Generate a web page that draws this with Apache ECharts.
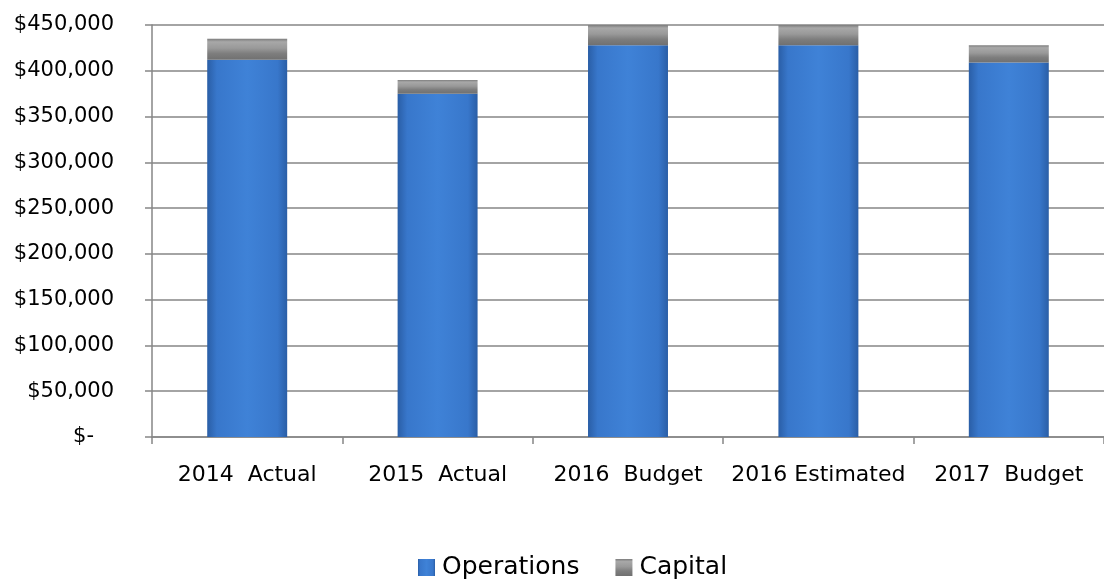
<!DOCTYPE html>
<html>
<head>
<meta charset="utf-8">
<script src="https://cdn.jsdelivr.net/npm/echarts@6/dist/echarts.min.js"></script>
<style>html,body{margin:0;padding:0;background:#fff}#c{width:1104px;height:580px}</style>
</head>
<body>
<div id="c"></div>
<script>
const categories = ['2014  Actual', '2015  Actual', '2016  Budget', '2016 Estimated', '2017  Budget'];
const operations = [412000, 375000, 428000, 428000, 409000];
const capital = [23000, 15000, 22000, 22000, 19000];
const yMin = 0, yMax = 450000, yStep = 50000;

const FONT = "'DejaVu Sans', sans-serif";
const gridColor = '#868686';

const chart = echarts.init(document.getElementById('c'), null, {renderer: 'canvas'});
const blue = new echarts.graphic.LinearGradient(0, 0, 1, 0, [
  {offset: 0, color: '#2a5ea6'},
  {offset: 0.12, color: '#3877cb'},
  {offset: 0.5, color: '#3f82d7'},
  {offset: 0.88, color: '#3877cb'},
  {offset: 1, color: '#2a5ea6'}
]);
const gray = new echarts.graphic.LinearGradient(0, 0, 0, 1, [
  {offset: 0, color: '#7c7c7c'},
  {offset: 0.15, color: '#a8a8a8'},
  {offset: 0.45, color: '#999999'},
  {offset: 0.7, color: '#7e7e7e'},
  {offset: 1, color: '#707070'}
]);
chart.setOption({
  animation: false,
  backgroundColor: '#ffffff',
  grid: {left: 152, top: 25, width: 960, height: 412, containLabel: false},
  legend: {
    left: 413, top: 550,
    itemWidth: 17, itemHeight: 17, itemGap: 36,
    icon: 'rect',
    textStyle: {fontFamily: FONT, fontSize: 25, color: '#000', padding: [0, 0, 0, 2]},
    data: ['Operations', 'Capital']
  },
  xAxis: {
    type: 'category',
    data: categories,
    axisLine: {lineStyle: {color: gridColor, width: 1.5}},
    axisTick: {show: true, length: 7, lineStyle: {color: gridColor, width: 1.5}},
    axisLabel: {fontFamily: FONT, fontSize: 22, color: '#000', margin: 27, interval: 0}
  },
  yAxis: {
    type: 'value',
    min: yMin, max: yMax, interval: yStep,
    axisLine: {show: true, lineStyle: {color: gridColor, width: 1.5}},
    axisTick: {show: true, length: 7, lineStyle: {color: gridColor, width: 1.5}},
    splitLine: {lineStyle: {color: gridColor, width: 1.5}},
    axisLabel: {
      fontFamily: FONT, fontSize: 21, color: '#000', margin: 38,
      formatter: v => v === 0 ? '$-   ' : '$' + v.toLocaleString('en-US')
    }
  },
  series: [
    {
      name: 'Operations', type: 'bar', stack: 'total', data: operations,
      barWidth: '42%',
      itemStyle: {color: blue}
    },
    {
      name: 'Capital', type: 'bar', stack: 'total', data: capital,
      barWidth: '42%',
      itemStyle: {color: gray}
    }
  ]
});
</script>
</body>
</html>
